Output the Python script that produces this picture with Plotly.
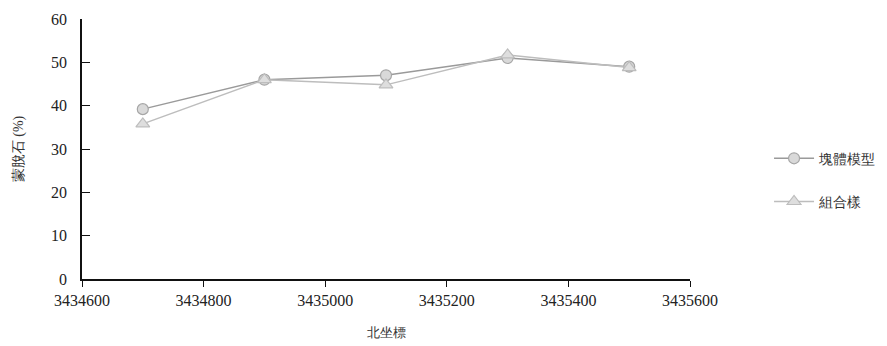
import plotly.graph_objects as go

x_vals = [3434700, 3434900, 3435100, 3435300, 3435500]
block_model = [39.2, 46.0, 47.0, 51.0, 49.0]
combined = [35.8, 46.0, 44.8, 51.7, 48.8]
series_names = ["塊體模型", "組合樣"]

fig = go.Figure()
fig.add_trace(go.Scatter(
    x=x_vals, y=block_model, name=series_names[0], mode="lines+markers",
    legendgroup="a",
    line=dict(color="#9a9a9a", width=1.5),
    marker=dict(symbol="circle", size=11, color="#d9d9d9",
                line=dict(color="#a6a6a6", width=1.2)),
))
fig.add_trace(go.Scatter(
    x=x_vals, y=combined, name=series_names[1], mode="lines+markers",
    legendgroup="b",
    line=dict(color="#bdbdbd", width=1.5),
    marker=dict(symbol="triangle-up", size=12, color="#dedede",
                line=dict(color="#bdbdbd", width=1.2)),
))

serif = "Liberation Serif"
cjk = "Liberation Serif"

# page body has an 8px margin, so the figure is sized/offset to compensate
fig.update_layout(
    width=879, height=338,
    margin=dict(l=74, r=197, t=11, b=67, autoexpand=False),
    paper_bgcolor="white", plot_bgcolor="white",
    font=dict(family=cjk, size=14, color="#222"),
    showlegend=True,
    legend=dict(x=1.13, y=0.38, xanchor="left", yanchor="middle",
                font=dict(family=cjk, size=14, color="#333"),
                itemwidth=40,
                tracegroupgap=22, bgcolor="rgba(0,0,0,0)"),
    xaxis=dict(
        range=[3434600, 3435600], dtick=200, tick0=3434600,
        showgrid=False, zeroline=False, automargin=False,
        showline=True, linecolor="#111", linewidth=1.5,
        ticks="outside", ticklen=6, tickcolor="#111",
        tickfont=dict(family=serif, size=16, color="#222"),
        tickformat="d",
        title=dict(text="北坐標", font=dict(family=cjk, size=13, color="#333"), standoff=20),
    ),
    yaxis=dict(
        range=[0, 60], dtick=10,
        showgrid=False, zeroline=False, automargin=False,
        showline=True, linecolor="#111", linewidth=1.5,
        ticks="inside", ticklen=8, tickcolor="#111",
        ticklabelstandoff=10,
        tickfont=dict(family=serif, size=16, color="#222"),
        title=dict(text="蒙脫石 (%)", font=dict(family=cjk, size=14, color="#333"), standoff=24),
    ),
)

fig.write_html("out.html")
